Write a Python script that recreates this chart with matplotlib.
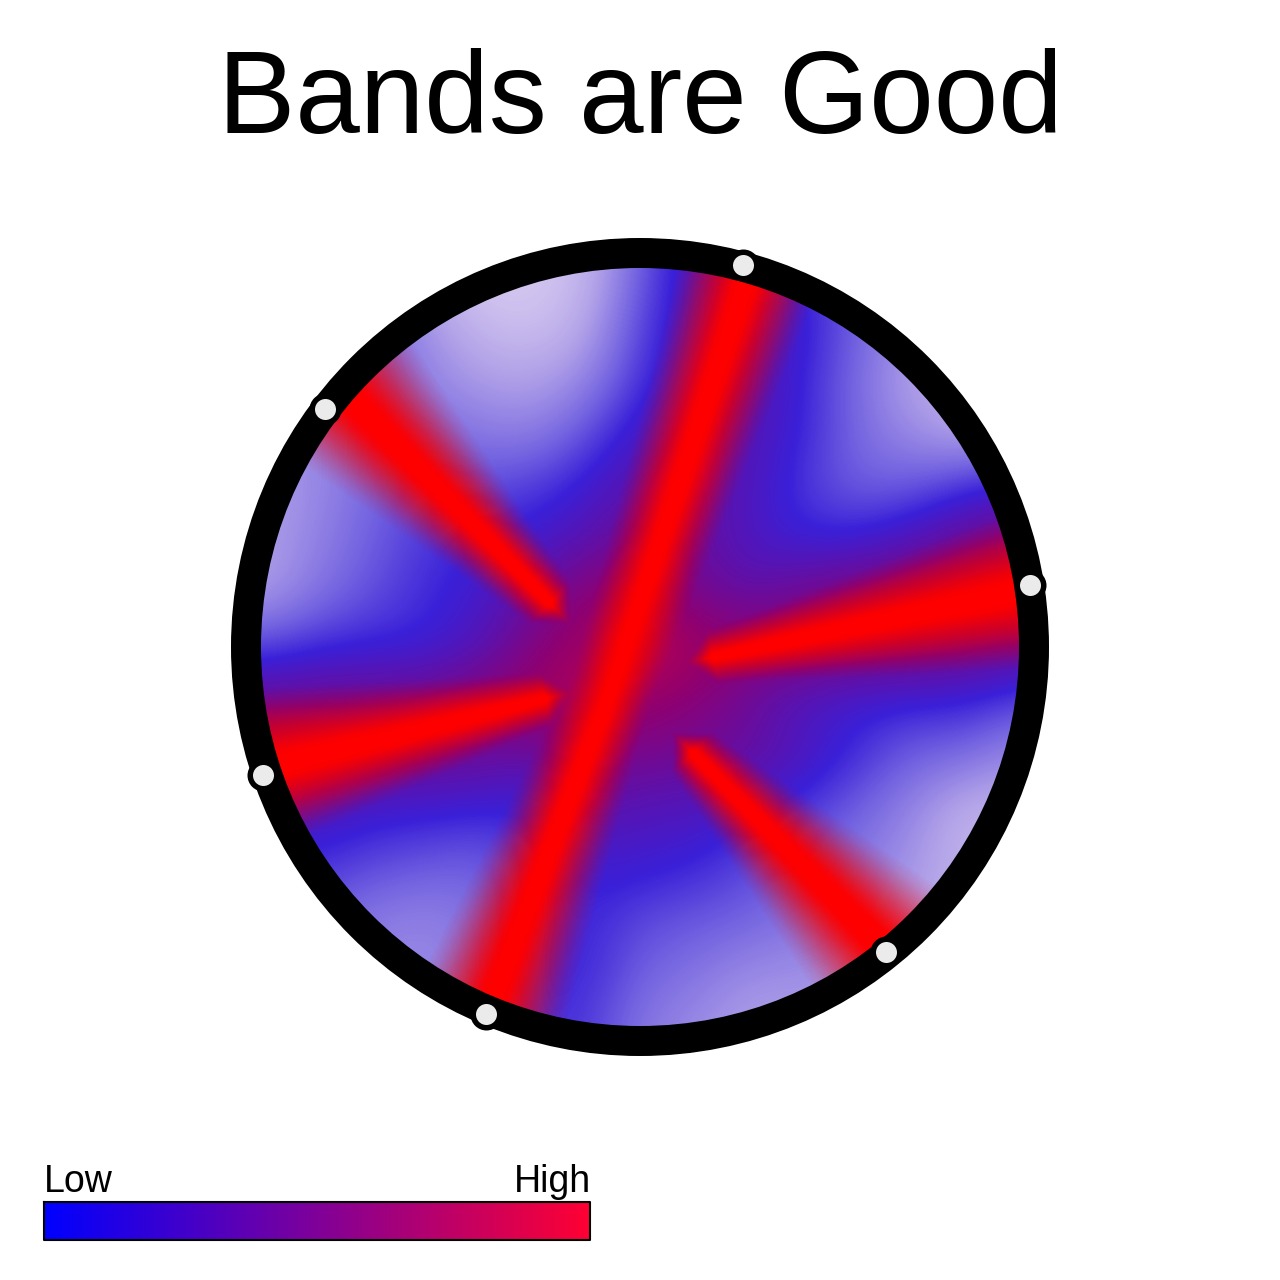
import matplotlib
matplotlib.use('Agg')
import matplotlib.pyplot as plt
import numpy as np
from matplotlib.colors import LinearSegmentedColormap
from matplotlib.patches import Circle, Polygon

plt.rcParams['font.family'] = ['Liberation Sans', 'DejaVu Sans']

title = 'Bands are Good'
bar_labels = ['Low', 'High']

# head outline and electrodes, in picture pixels
head_x, head_y = 640, 647
electrode_x = [743, 1030, 886, 486, 263, 325]
electrode_y = [265, 585, 952, 1014, 775, 409]

# level between the bands on a 54 px grid
grid_x = [262, 316, 370, 424, 478, 532, 586, 640, 694, 748, 802, 856, 910, 964, 1018]
grid_y = [269, 323, 377, 431, 485, 539, 593, 647, 701, 755, 809, 863, 917, 971, 1025]
level = [
    [.10, .10, .10, .05, .03, .03, .08, .30, .50, .55, .40, .30, .20, .20, .20],
    [.20, .20, .30, .20, .08, .05, .12, .35, .50, .55, .45, .30, .20, .10, .10],
    [.20, .20, .30, .22, .16, .14, .20, .38, .52, .55, .42, .28, .14, .10, .10],
    [.20, .20, .28, .28, .24, .22, .32, .47, .55, .52, .42, .28, .20, .12, .12],
    [.15, .20, .28, .34, .34, .36, .44, .55, .58, .50, .38, .30, .30, .38, .45],
    [.15, .22, .30, .38, .42, .45, .52, .62, .58, .48, .42, .42, .50, .60, .65],
    [.15, .25, .33, .40, .45, .58, .68, .75, .62, .55, .62, .68, .72, .75, .75],
    [.35, .40, .42, .42, .50, .65, .75, .85, .75, .72, .72, .70, .68, .65, .60],
    [.60, .62, .62, .65, .70, .75, .80, .72, .68, .58, .48, .44, .42, .42, .35],
    [.75, .70, .65, .62, .60, .55, .65, .62, .60, .58, .50, .40, .30, .28, .20],
    [.50, .50, .45, .44, .42, .42, .55, .50, .50, .45, .38, .30, .22, .10, .10],
    [.40, .40, .35, .32, .30, .36, .45, .45, .42, .35, .30, .25, .18, .10, .10],
    [.30, .30, .24, .22, .25, .38, .42, .35, .32, .30, .25, .22, .15, .10, .10],
    [.25, .25, .22, .20, .25, .40, .42, .30, .26, .20, .20, .18, .12, .10, .10],
    [.25, .25, .22, .20, .25, .40, .38, .25, .20, .15, .15, .15, .12, .10, .10],
]

level_stops = [0, .15, .30, .42, .55, .70, .85, 1]
level_colors = ['#E0D4F2', '#B0A0E8', '#7060E0', '#3A20D8', '#6010A8', '#900070', '#C80040', '#FF0000']

# red bands: centre line stations and half width of the glow at each of them
band_a_x, band_a_y, band_a_w = [760, 612, 470], [240, 688, 1060], [75, 42, 85]
band_b_x, band_b_y, band_b_w = [1050, 713], [585, 657], [85, 28]
band_e_x, band_e_y, band_e_w = [250, 545], [772, 699], [85, 28]
band_f_x, band_f_y, band_f_w = [335, 550], [382, 603], [90, 30]
band_c_x, band_c_y, band_c_w = [900, 693], [965, 753], [90, 30]
band_list = [
    (band_b_x, band_b_y, band_b_w),
    (band_e_x, band_e_y, band_e_w),
    (band_f_x, band_f_y, band_f_w),
    (band_c_x, band_c_y, band_c_w),
    (band_a_x, band_a_y, band_a_w),
]

# share of red across a band, from the rim of the glow to the core
profile_pos = [1, .85, .7, .55, .4, .28, .18, .1]
profile_red = [0, .12, .30, .50, .70, .86, .97, 1]


def band_polygon(xs, ys, ws, scale):
    xs, ys, ws = map(np.array, (xs, ys, ws))
    dirs = np.array([xs[-1] - xs[0], ys[-1] - ys[0]], dtype=float)
    dirs /= np.hypot(*dirs)
    nx, ny = -dirs[1], dirs[0]
    w = ws * scale
    left = np.column_stack([xs + nx * w, ys + ny * w])
    right = np.column_stack([xs - nx * w, ys - ny * w])
    tip = [[xs[-1] + dirs[0] * w[-1], ys[-1] + dirs[1] * w[-1]]]
    return np.vstack([left, tip, right[::-1]])


fig = plt.figure(figsize=(12.8, 12.8), dpi=100)
ax = fig.add_axes([0, 0, 1, 1])
ax.set_xlim(0, 1280)
ax.set_ylim(1280, 0)
ax.axis('off')

cmap = LinearSegmentedColormap.from_list('bands', list(zip(level_stops, level_colors)))
step = grid_x[1] - grid_x[0]
im = ax.imshow(level, cmap=cmap, vmin=0, vmax=1, interpolation='bicubic', interpolation_stage='data',
               extent=(grid_x[0] - step / 2, grid_x[-1] + step / 2, grid_y[-1] + step / 2, grid_y[0] - step / 2),
               aspect='auto', zorder=1)
ax.set_xlim(0, 1280)
ax.set_ylim(1280, 0)
clip = Circle((head_x, head_y), 382, transform=ax.transData)
im.set_clip_path(clip)

# nested polygons, the red builds up towards the core
scales = np.linspace(1, 0.05, 30)
reds = np.interp(scales, profile_pos[::-1], profile_red[::-1])
prev = 0
for scale, red in zip(scales, reds):
    alpha = 1 - (1 - red) / (1 - prev) if prev < 1 else 1
    prev = min(red, 0.999)
    for xs, ys, ws in band_list:
        patch = Polygon(band_polygon(xs, ys, ws, scale), closed=True, fc='#FF0000', ec='none',
                        alpha=float(alpha), zorder=2)
        ax.add_patch(patch)
        patch.set_clip_path(clip)

ax.add_patch(Circle((head_x, head_y), 394, fc='none', ec='black', lw=30 * 0.72, zorder=3))
ax.scatter(electrode_x, electrode_y, s=(32 * 0.72) ** 2, c='black', linewidths=0, zorder=4)
ax.scatter(electrode_x, electrode_y, s=(21 * 0.72) ** 2, c='#EBEBEB', linewidths=0, zorder=5)

ax.text(640, 133, title, fontsize=83.5, ha='center', va='baseline', color='black')

# colour key
bar_cmap = LinearSegmentedColormap.from_list('key', ['#0000FF', '#FF0033'])
ax.imshow(np.linspace(0, 1, 256).reshape(1, -1), cmap=bar_cmap, extent=(44, 590, 1240, 1202), aspect='auto', zorder=1)
ax.plot([44, 590, 590, 44, 44], [1202, 1202, 1240, 1240, 1202], color='black', lw=1.5, zorder=2)
ax.text(44, 1192, bar_labels[0], fontsize=27, ha='left', va='baseline')
ax.text(591, 1192, bar_labels[1], fontsize=27, ha='right', va='baseline')
ax.set_xlim(0, 1280)
ax.set_ylim(1280, 0)

fig.savefig('out.png', dpi=100, facecolor='white')
